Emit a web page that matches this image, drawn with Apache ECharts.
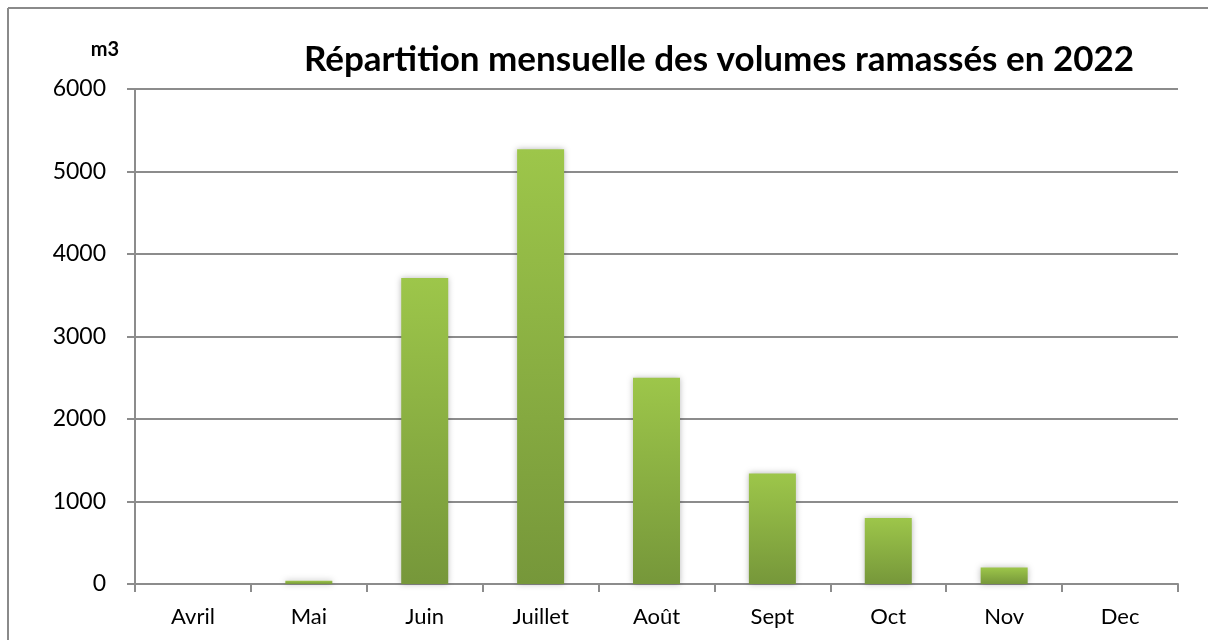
<!DOCTYPE html>
<html>
<head>
<meta charset="utf-8">
<script src="https://cdn.jsdelivr.net/npm/echarts@6/dist/echarts.min.js"></script>
<style>html,body{margin:0;padding:0;background:#fff}#c{width:1208px;height:640px}</style>
</head>
<body>
<div id="c"></div>
<script>
const categories = ['Avril', 'Mai', 'Juin', 'Juillet', 'Août', 'Sept', 'Oct', 'Nov', 'Dec'];
const volumes = [0, 40, 3710, 5270, 2500, 1340, 800, 200, 0];
const yTicks = { min: 0, max: 6000, interval: 1000 };
const titleText = 'Répartition mensuelle des volumes ramassés en 2022';
const unitText = 'm3';

const chart = echarts.init(document.getElementById('c'), null, { renderer: 'canvas' });
const gray = '#8c8c8c';
chart.setOption({
  animation: false,
  backgroundColor: '#fff',
  textStyle: { fontFamily: 'Lato' },
  title: [
    { text: titleText, left: 714, top: 37, textAlign: 'center',
      textStyle: { fontFamily: 'Lato', fontWeight: 'bold', fontSize: 35, color: '#000' } },
    { text: unitText, left: 100, top: 35, textAlign: 'center',
      textStyle: { fontFamily: 'Lato', fontWeight: 'bold', fontSize: 20, color: '#000' } }
  ],
  graphic: [
    { type: 'line', shape: { x1: 8, y1: 8, x2: 1208, y2: 8 }, style: { stroke: '#8a8a8a', lineWidth: 2 } },
    { type: 'line', shape: { x1: 8, y1: 8, x2: 8, y2: 640 }, style: { stroke: '#8a8a8a', lineWidth: 2 } }
  ],
  grid: { left: 135, right: 30, top: 89, bottom: 56, containLabel: false },
  xAxis: {
    type: 'category',
    data: categories,
    boundaryGap: true,
    axisLine: { show: true, lineStyle: { color: gray, width: 2 } },
    axisTick: { show: true, length: 8, alignWithLabel: false, lineStyle: { color: gray, width: 2 } },
    axisLabel: { color: '#000', fontSize: 22, margin: 22, fontFamily: 'Lato' },
    splitLine: { show: false }
  },
  yAxis: {
    type: 'value',
    min: yTicks.min, max: yTicks.max, interval: yTicks.interval,
    axisLine: { show: true, lineStyle: { color: gray, width: 2 } },
    axisTick: { show: true, length: 8, lineStyle: { color: gray, width: 2 } },
    axisLabel: { color: '#000', fontSize: 23, margin: 29, fontFamily: 'Lato',
      formatter: function (v) { return String(v); } },
    splitLine: { show: true, lineStyle: { color: gray, width: 2 } }
  },
  series: [{
    type: 'bar',
    data: volumes,
    barWidth: 47,
    itemStyle: {
      color: new echarts.graphic.LinearGradient(0, 0, 0, 1, [
        { offset: 0, color: '#9dc64a' },
        { offset: 1, color: '#76973a' }
      ]),
      shadowColor: 'rgba(0,0,0,0.28)',
      shadowBlur: 6
    }
  }]
});
</script>
</body>
</html>
